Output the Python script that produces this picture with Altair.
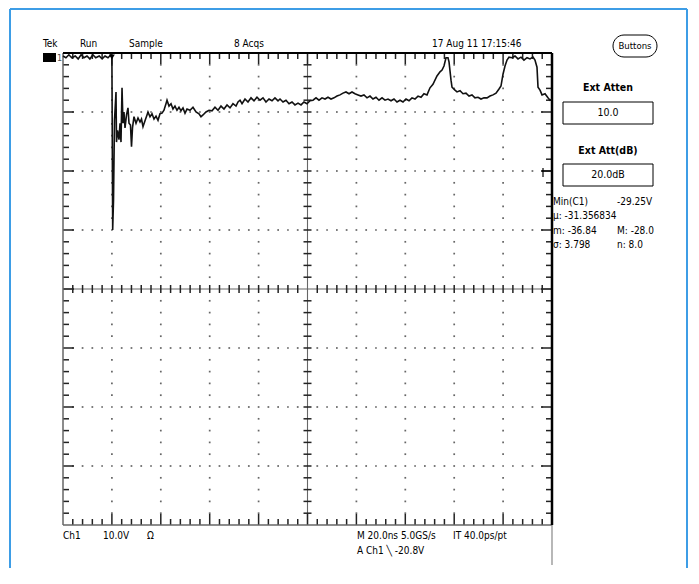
import altair as alt
import pandas as pd

# ---------------- data (graticule divisions: x 0..10, y -4..4) ----------------
trace_x = [
    0.00, 0.06, 0.12, 0.18, 0.25, 0.31, 0.37, 0.43, 0.49, 0.55, 0.61, 0.67, 0.74, 0.80, 0.86, 0.92, 0.98, 1.00,
    1.016, 1.033, 1.053, 1.084, 1.094, 1.115, 1.145, 1.166, 1.186, 1.207, 1.227, 1.247, 1.268, 1.299, 1.329, 1.350,
    1.380, 1.401, 1.421, 1.452, 1.493, 1.534, 1.575, 1.605, 1.636, 1.677, 1.718, 1.738, 1.779, 1.820, 1.861, 1.902,
    1.943, 1.984, 2.025, 2.065, 2.106, 2.127, 2.168, 2.209, 2.249, 2.290, 2.331, 2.372, 2.413, 2.454, 2.495, 2.536,
    2.597, 2.658, 2.720, 2.781, 2.822, 2.863, 2.924, 2.986, 3.047, 3.108, 3.170, 3.231, 3.292, 3.354, 3.415, 3.476,
    3.538, 3.579, 3.620, 3.661, 3.722, 3.783, 3.845, 3.906, 3.967, 4.029, 4.090, 4.151, 4.213, 4.274, 4.335, 4.397,
    4.438, 4.499, 4.560, 4.622, 4.683, 4.744, 4.806, 4.867, 4.928, 4.990, 5.051, 5.112, 5.174, 5.235, 5.297, 5.358,
    5.419, 5.481, 5.542, 5.603, 5.665, 5.726, 5.787, 5.849, 5.910, 5.971, 6.033, 6.094, 6.155, 6.217, 6.278, 6.339,
    6.401, 6.462, 6.524, 6.585, 6.646, 6.708, 6.769, 6.830, 6.892, 6.953, 7.014, 7.076, 7.137, 7.198, 7.260, 7.321,
    7.382, 7.444,
    7.505, 7.566, 7.648, 7.710, 7.751, 7.791, 7.832, 7.873, 7.894, 7.935, 7.955, 8.016, 8.057, 8.119, 8.180, 8.241,
    8.303, 8.364, 8.425, 8.487, 8.548, 8.609, 8.671, 8.732, 8.793, 8.855, 8.916, 8.957, 8.998, 9.039, 9.080, 9.121,
    9.182, 9.243, 9.305, 9.366, 9.427, 9.489, 9.550, 9.611, 9.652, 9.693, 9.714, 9.755, 9.796, 9.857, 9.918, 9.959,
    10.0,
]
trace_y = [
    3.95, 3.92, 3.97, 3.92, 3.95, 3.90, 3.97, 3.92, 3.95, 3.90, 3.97, 3.92, 3.95, 3.90, 3.95, 3.92, 3.97, 3.93,
    1.00, 1.51, 2.86, 3.34, 2.49, 2.69, 2.53, 2.81, 2.49, 3.41, 2.81, 3.00, 2.73, 2.95, 3.07, 2.81,
    2.78, 2.41, 2.73, 2.92, 2.81, 2.90, 2.83, 2.88, 2.75, 2.85, 2.95, 3.00, 2.92, 2.97, 2.88, 2.93,
    2.86, 2.97, 2.98, 3.03, 3.14, 3.20, 3.10, 3.14, 3.05, 3.10, 3.03, 3.08, 3.02, 3.07, 2.98, 3.05,
    3.03, 3.08, 3.00, 2.97, 2.92, 2.95, 3.00, 3.03, 3.02, 3.08, 3.03, 3.10, 3.05, 3.12, 3.07, 3.14,
    3.10, 3.17, 3.20, 3.14, 3.22, 3.17, 3.24, 3.19, 3.25, 3.20, 3.24, 3.17, 3.22, 3.19, 3.24, 3.19,
    3.22, 3.17, 3.20, 3.14, 3.17, 3.12, 3.15, 3.12, 3.17, 3.14, 3.19, 3.20, 3.24, 3.20, 3.24, 3.22,
    3.25, 3.22, 3.24, 3.27, 3.29, 3.32, 3.34, 3.31, 3.34, 3.31, 3.29, 3.27, 3.29, 3.24, 3.27, 3.22,
    3.25, 3.20, 3.24, 3.20, 3.22, 3.19, 3.22, 3.17, 3.20, 3.17, 3.22, 3.19, 3.24, 3.22, 3.27, 3.25,
    3.31, 3.29,
    3.41, 3.47, 3.61, 3.68, 3.71, 3.78, 3.92, 3.92, 3.85, 3.54, 3.42, 3.37, 3.34, 3.36, 3.31, 3.32,
    3.27, 3.29, 3.24, 3.25, 3.22, 3.24, 3.24, 3.27, 3.29, 3.32, 3.39, 3.44, 3.64, 3.78, 3.88, 3.93,
    3.92, 3.95, 3.90, 3.93, 3.88, 3.92, 3.90, 3.93, 3.88, 3.76, 3.42, 3.37, 3.29, 3.31, 3.24, 3.20,
    3.22,
]

header_labels = ["Tek", "Run", "Sample", "8 Acqs", "17 Aug 11 17:15:46"]
ext_titles = ["Ext Atten", "Ext Att(dB)"]
ext_values = ["10.0", "20.0dB"]
meas_left = ["Min(C1)", "\u03bc: -31.356834", "m: -36.84", "\u03c3: 3.798"]
meas_right = ["-29.25V", "", "M: -28.0", "n: 8.0"]
bottom_row1 = ["Ch1", "10.0V", "\u03a9", "M 20.0ns 5.0GS/s", "IT 40.0ps/pt"]
bottom_row2 = ["A  Ch1  \u2572  -20.8V"]

# ---------------- layout helpers ----------------
W, H = 489, 472          # graticule size in px
NX, NY = 10, 8           # divisions
OX, OY = 63, 53          # page position of graticule top-left
ux = NX / W
uy = NY / H
FONT = "Liberation Sans Narrow, DejaVu Sans Condensed, Arial Narrow, sans-serif"

def gx(px):
    return (px - OX) * ux

def gy(py):
    return NY / 2 - (py - OY) * uy

xs = alt.Scale(domain=[0, NX], nice=False, zero=False)
ys = alt.Scale(domain=[-NY / 2, NY / 2], nice=False, zero=False)


def vrules(segs, color, width):
    df = pd.DataFrame(segs, columns=["x", "y", "y2"])
    return alt.Chart(df).mark_rule(color=color, strokeWidth=width).encode(
        x=alt.X("x:Q", scale=xs, axis=None),
        y=alt.Y("y:Q", scale=ys, axis=None), y2="y2:Q")


def hrules(segs, color, width):
    df = pd.DataFrame(segs, columns=["x", "x2", "y"])
    return alt.Chart(df).mark_rule(color=color, strokeWidth=width).encode(
        x=alt.X("x:Q", scale=xs, axis=None), x2="x2:Q",
        y=alt.Y("y:Q", scale=ys, axis=None))


def texts(items, size=10.5, weight="normal", align="left", color="black"):
    df = pd.DataFrame({"t": [i[0] for i in items],
                       "x": [gx(i[1]) for i in items],
                       "y": [gy(i[2]) for i in items]})
    return alt.Chart(df).mark_text(align=align, baseline="middle", fontSize=size,
                                   fontWeight=weight, font=FONT, color=color).encode(
        x=alt.X("x:Q", scale=xs, axis=None), y=alt.Y("y:Q", scale=ys, axis=None), text="t:N")


def boxes(items, radius=0):
    df = pd.DataFrame([(gx(a), gx(b), gy(c), gy(d)) for a, b, c, d in items], columns=["x", "x2", "y", "y2"])
    return alt.Chart(df).mark_rect(fill="white", stroke="black", strokeWidth=1, cornerRadius=radius).encode(
        x=alt.X("x:Q", scale=xs, axis=None), x2="x2:Q",
        y=alt.Y("y:Q", scale=ys, axis=None), y2="y2:Q")

# ---------------- graticule ----------------
minor_x = [i * 0.2 for i in range(1, 50)]
minor_y = [-4 + j * 0.2 for j in range(1, 40)]


def tick_len(k):
    return 11 if k % 5 == 0 else 6


top_ticks = [(xv, 4 - tick_len(i) * uy, 4) for i, xv in enumerate(minor_x, start=1)]
bottom_ticks = [(xv, -4, -4 + tick_len(i) * uy) for i, xv in enumerate(minor_x, start=1)]
hcenter_ticks = [(xv, -4 * uy, 4 * uy) for i, xv in enumerate(minor_x, start=1) if i != 25]
left_ticks = [(0, tick_len(j) * ux, yv) for j, yv in enumerate(minor_y, start=1)]
right_ticks = [(10 - tick_len(j) * ux, 10, yv) for j, yv in enumerate(minor_y, start=1)]
vcenter_ticks = [(5 - 4 * ux, 5 + 4 * ux, yv) for j, yv in enumerate(minor_y, start=1) if j != 20]

dots = []
for yv in [-3, -2, -1, 1, 2, 3]:
    for i, xv in enumerate(minor_x, start=1):
        if i != 25:
            dots.append((xv, yv))
for xv in [1, 2, 3, 4, 6, 7, 8, 9]:
    for j, yv in enumerate(minor_y, start=1):
        if j % 5 != 0:
            dots.append((xv, yv))
dots_df = pd.DataFrame(dots, columns=["x", "y"])

TICK = "#222"
TW = 1.5
layers = []
# blue page frame
layers.append(vrules([(gx(10), gy(600), gy(9)), (gx(687), gy(600), gy(9))], "#3d9de6", 2))
layers.append(hrules([(gx(10), gx(687), gy(9))], "#3d9de6", 2))
layers.append(alt.Chart(dots_df).mark_square(size=3, color="#666", opacity=1).encode(
    x=alt.X("x:Q", scale=xs, axis=None), y=alt.Y("y:Q", scale=ys, axis=None)))
layers.append(hrules([(0, 10, 0)], "#666", 1.1))
layers.append(vrules([(5, -4, 4)], "#666", 1.1))
layers.append(vrules(top_ticks, TICK, TW))
layers.append(vrules(bottom_ticks, TICK, TW))
layers.append(vrules(hcenter_ticks, TICK, TW))
layers.append(hrules(left_ticks, TICK, TW))
layers.append(hrules(right_ticks, TICK, TW))
layers.append(hrules(vcenter_ticks, TICK, TW))
layers.append(vrules([(0, -4, 4)], "#666", 1.5))
layers.append(hrules([(0, 10, -4)], "#666", 1.5))
layers.append(hrules([(0, 10, 4)], "black", 2))
layers.append(vrules([(10, -4, 4)], "black", 2.5))
layers.append(vrules([(10, gy(565), -4)], "#888", 1.2))
# trigger level marker (right edge)
layers.append(hrules([(10 - 10 * ux, 10, 2)], "black", 1.2))
layers.append(vrules([(10 - 9 * ux, 2 - 6 * uy, 2 + 3 * uy)], "black", 1.2))

# trace
trace_df = pd.DataFrame({"x": trace_x, "y": trace_y})
layers.append(alt.Chart(trace_df).mark_line(color="#111", strokeWidth=1.6).encode(
    x=alt.X("x:Q", scale=xs, axis=None), y=alt.Y("y:Q", scale=ys, axis=None)))

# trigger position marker and channel marker
layers.append(alt.Chart(pd.DataFrame({"x": [1.0], "y": [gy(57)]})).mark_point(
    shape="triangle-down", filled=True, size=35, color="black", opacity=1).encode(
    x=alt.X("x:Q", scale=xs, axis=None), y=alt.Y("y:Q", scale=ys, axis=None)))
layers.append(alt.Chart(pd.DataFrame({"x": [gx(43)], "x2": [gx(56)], "y": [gy(53)], "y2": [gy(62)]})).mark_rect(
    color="black").encode(x=alt.X("x:Q", scale=xs, axis=None), x2="x2:Q",
                          y=alt.Y("y:Q", scale=ys, axis=None), y2="y2:Q"))
layers.append(texts([("1", 57, 58)], size=9, color="#555"))

# header
hx = [43, 80, 129, 234, 432]
layers.append(texts([(t, x, 44) for t, x in zip(header_labels, hx)], size=10))

# right panel
layers.append(boxes([(613, 657, 35, 57)], radius=11))
layers.append(texts([("Buttons", 635, 46)], size=9.5, align="center"))
layers.append(texts([(ext_titles[0], 608, 88), (ext_titles[1], 608, 151)], size=10.5, weight="bold", align="center"))
layers.append(boxes([(563, 653, 102, 124), (563, 653, 164, 186)]))
layers.append(texts([(ext_values[0], 608, 113), (ext_values[1], 608, 175)], size=10.5, align="center"))
my = [202, 216, 231, 245]
layers.append(texts([(t, 553, y) for t, y in zip(meas_left, my)], size=10))
layers.append(texts([(t, 617, y) for t, y in zip(meas_right, my) if t], size=10))

# bottom
bx = [63, 103, 147, 357, 453]
layers.append(texts([(t, x, 536) for t, x in zip(bottom_row1, bx)], size=10))
layers.append(texts([(bottom_row2[0], 357, 551)], size=10))

chart = alt.layer(*layers).properties(
    width=W, height=H,
    autosize=alt.AutoSizeParams(type="none"),
    padding={"left": 55, "top": 45, "right": 137, "bottom": 43},
    background="white",
).configure_view(stroke=None)

chart.save("out.html", embed_options={"renderer": "svg", "actions": False})
